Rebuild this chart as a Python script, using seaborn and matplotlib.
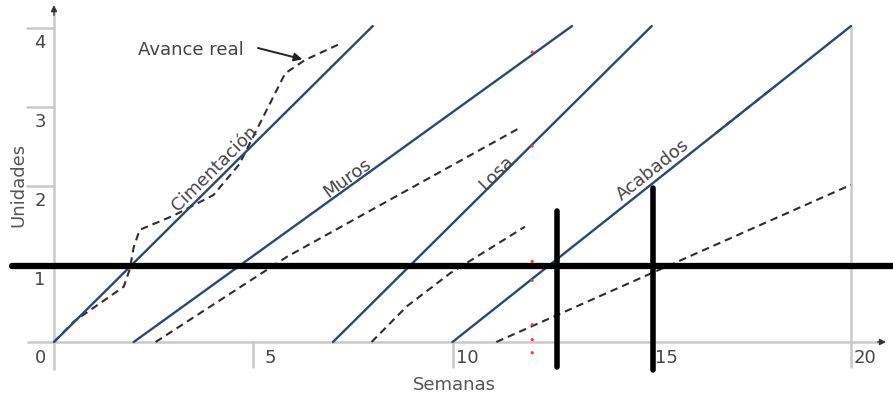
import numpy as np
import pandas as pd
import matplotlib
matplotlib.use("Agg")
import matplotlib.pyplot as plt
import seaborn as sns

# ---------------- data ----------------
activities = ["Cimentación", "Muros", "Losa", "Acabados"]
plan_start = [0, 2, 7, 10]          # semana de inicio (0 unidades)
plan_end = [8, 13, 15, 20]          # semana de fin (4 unidades)
plan_units = [0, 4]

# Avance real (dashed)
real_cim_x = [0, 0.5, 1.75, 1.9, 2.0, 2.15, 3.0, 4.0, 4.65, 5.2, 5.8, 6.3, 7.2]
real_cim_y = [0, 0.26, 0.70, 0.92, 1.20, 1.42, 1.60, 1.86, 2.25, 2.80, 3.40, 3.57, 3.78]
real_muros_x = [2.55, 5.85, 11.65]
real_muros_y = [0, 1.08, 2.70]
real_losa_x = [7.97, 8.85, 9.94, 11.82]
real_losa_y = [0, 0.45, 0.87, 1.46]
real_acab_x = [11.1, 20.0]
real_acab_y = [0, 1.99]
real_acab_mark_x = [16.6, 18.1]
real_acab_mark_y = [2.64, 3.24]

# thick black cut lines
cut_h_y = 0.96
cut_h_x = [-1.05, 21.1]
cut_v_x = [12.62, 15.03]
cut_v_top = [1.66, 1.95]
cut_v_bottom = [-0.32, -0.35]

# small red dots at week 12
red_x = [12, 12, 12, 12, 12, 12, 12]
red_y = [3.67, 2.48, 1.02, 0.78, 0.22, 0.03, -0.135]

x_ticks = [5, 10, 15, 20]
x_tick_labels = ["5", "10", "15", "20"]
y_ticks = [1, 2, 3, 4]
y_tick_labels = ["1", "2", "3", "4"]
xlabel = "Semanas"
ylabel = "Unidades"
annot_text = "Avance real"

# ---------------- style ----------------
sns.set_style("white")
plt.rcParams["font.family"] = ["DejaVu Sans"]
BLUE = "#284a72"
DASH = "#2e2e2e"
GRAY = "#c9c9c9"
TXT = "#454545"
FS = 13

fig = plt.figure(figsize=(8.93, 3.96), dpi=100)
ax = fig.add_axes([0, 0, 1, 1])
ax.set_xlim(-54 / 39.85, (893 - 54) / 39.85)
ax.set_ylim((342 - 396) / 79.0, 342 / 79.0)
for s in ax.spines.values():
    s.set_visible(False)
ax.set_xticks([])
ax.set_yticks([])

# axes lines (custom, through origin)
ax.plot([-0.68, 20.75], [0, 0], color=GRAY, lw=1.8, solid_capstyle="butt", zorder=1)
ax.plot([0, 0], [-0.35, 4.18], color=GRAY, lw=1.8, solid_capstyle="butt", zorder=1)
ax.annotate("", xy=(20.95, 0), xytext=(20.6, 0),
            arrowprops=dict(arrowstyle="-|>", color="#333333", lw=1.0, mutation_scale=9))
ax.annotate("", xy=(0, 4.3), xytext=(0, 4.1),
            arrowprops=dict(arrowstyle="-|>", color="#333333", lw=1.0, mutation_scale=9))
# tick marks
for xt in x_ticks:
    ax.plot([xt, xt], [0, -0.32], color=GRAY, lw=1.8, zorder=1)
for yt in y_ticks:
    ax.plot([-0.68, 0], [yt - 0.02, yt - 0.02], color=GRAY, lw=1.8, zorder=1)
ax.plot([20, 20], [0, 4.0], color=GRAY, lw=1.8, zorder=1)

# tick labels
x_off = [0.28, 0.08, 0.08, 0.06]
for xt, lab, off in zip(x_ticks, x_tick_labels, x_off):
    ax.text(xt + off, -0.2, lab, ha="left", va="center", fontsize=FS, color=TXT)
for yt, lab in zip(y_ticks, y_tick_labels):
    ax.text(-0.35, yt - 0.22, lab, ha="center", va="center", fontsize=FS, color=TXT)
ax.text(-0.35, -0.2, "0", ha="center", va="center", fontsize=FS, color=TXT)
ax.text(10.04, -0.54, xlabel, ha="center", va="center", fontsize=FS, color="#555555")
ax.text(-0.9, 1.99, ylabel, ha="center", va="center", rotation=90, fontsize=FS, color="#555555")

# planned lines
rows = []
for name, s, e in zip(activities, plan_start, plan_end):
    rows.append({"act": name, "semana": s, "unidades": plan_units[0]})
    rows.append({"act": name, "semana": e, "unidades": plan_units[1]})
plan = pd.DataFrame(rows)
sns.lineplot(data=plan, x="semana", y="unidades", units="act", estimator=None,
             color=BLUE, lw=1.7, ax=ax, legend=False, zorder=3)

# actual progress (dashed)
for xs, ys in [(real_cim_x, real_cim_y), (real_muros_x, real_muros_y),
               (real_losa_x, real_losa_y), (real_acab_x, real_acab_y),
               (real_acab_mark_x, real_acab_mark_y)]:
    sns.lineplot(x=xs, y=ys, sort=False, estimator=None, color=DASH, lw=1.5,
                 linestyle=(0, (3.6, 2.4)), ax=ax, zorder=2)

# activity labels rotated along the planned lines
lab_pos = {"Cimentación": (4.04, 2.2), "Muros": (7.35, 2.07),
           "Losa": (11.09, 2.14), "Acabados": (15.03, 2.18)}
fig.canvas.draw()
for name, s, e in zip(activities, plan_start, plan_end):
    p0 = ax.transData.transform((s, plan_units[0]))
    p1 = ax.transData.transform((e, plan_units[1]))
    ang = np.degrees(np.arctan2(p1[1] - p0[1], p1[0] - p0[0]))
    x, y = lab_pos[name]
    ax.text(x, y, name, rotation=ang, rotation_mode="anchor", ha="center",
            va="center", fontsize=FS, color=TXT, zorder=4)

# annotation
ax.text(3.44, 3.70, annot_text, ha="center", va="center", fontsize=FS, color=TXT)
ax.annotate("", xy=(6.3, 3.57), xytext=(5.05, 3.73),
            arrowprops=dict(arrowstyle="-|>", color="#222222", lw=1.4, mutation_scale=12))

# red dots
sns.scatterplot(x=red_x, y=red_y, color="#ff3030", s=5, edgecolor="none", ax=ax, zorder=5)

# thick black cut lines
sns.lineplot(x=cut_h_x, y=[cut_h_y, cut_h_y], color="black", lw=4.5, ax=ax, zorder=6)
for vx, vt, vb in zip(cut_v_x, cut_v_top, cut_v_bottom):
    sns.lineplot(x=[vx, vx], y=[vb, vt], sort=False, estimator=None, color="black",
                 lw=4.0, ax=ax, zorder=6)

ax.set_xlabel("")
ax.set_ylabel("")
fig.savefig("out.png", dpi=100)
